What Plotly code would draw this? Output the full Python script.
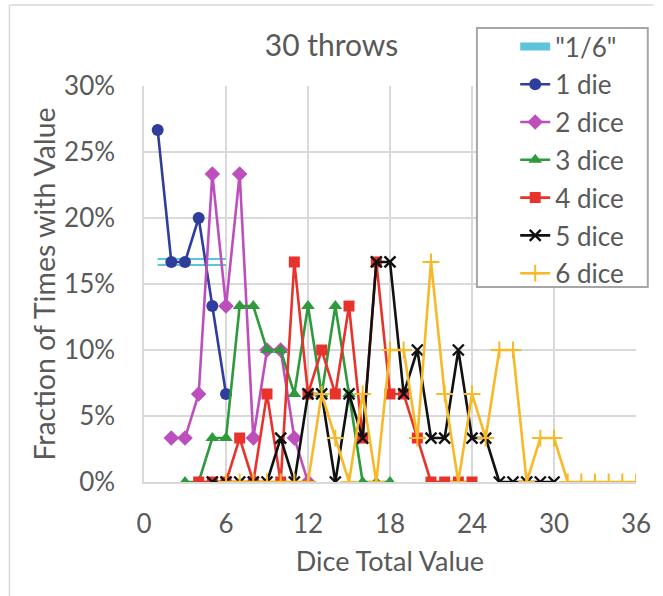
import plotly.graph_objects as go

# ---- data ----
x_sixth = [1, 2, 3, 4, 5, 6]
y_sixth = [0.1667, 0.1667, 0.1667, 0.1667, 0.1667, 0.1667]

x_d1 = list(range(1, 7))
y_d1 = [0.2667, 0.1667, 0.1667, 0.2, 0.1333, 0.0667]

x_d2 = list(range(2, 13))
y_d2 = [0.0333, 0.0333, 0.0667, 0.2333, 0.1333, 0.2333, 0.0333, 0.1, 0.1, 0.0333, 0]

x_d3 = list(range(3, 19))
y_d3 = [0, 0, 0.0333, 0.0333, 0.1333, 0.1333, 0.1, 0.1, 0.0667, 0.1333, 0.0667,
        0.1333, 0.0667, 0, 0, 0]

x_d4 = list(range(4, 25))
y_d4 = [0, 0, 0, 0.0333, 0, 0.0667, 0, 0.1667, 0.0667, 0.1, 0.0667, 0.1333,
        0.0333, 0.1667, 0.0667, 0.0667, 0.0333, 0, 0, 0, 0]

x_d5 = list(range(5, 31))
y_d5 = [0, 0, 0, 0, 0, 0.0333, 0, 0.0667, 0.0667, 0, 0.0667, 0.0333, 0.1667,
        0.1667, 0.0667, 0.1, 0.0333, 0.0333, 0.1, 0.0333, 0.0333, 0, 0, 0, 0, 0]

x_d6 = list(range(6, 37))
y_d6 = [0, 0, 0, 0, 0, 0, 0, 0.0667, 0.0333, 0, 0.0667, 0, 0.1, 0.1, 0.0333,
        0.1667, 0.0667, 0, 0.0667, 0.0333, 0.1, 0.1, 0, 0.0333, 0.0333,
        0, 0, 0, 0, 0, 0]

x_ticks = [0, 6, 12, 18, 24, 30, 36]
y_ticks = [0, 0.05, 0.10, 0.15, 0.20, 0.25, 0.30]

FONT = "Lato"
TXT = "#595959"
GRID = "#d9d9d9"

fig = go.Figure()

fig.add_trace(go.Scatter(x=x_sixth, y=y_sixth, mode="lines", name='"1/6"',
                         line=dict(color="#5ec4dc", width=8), legendgroup="g0"))
fig.add_trace(go.Scatter(x=x_sixth, y=y_sixth, mode="lines", showlegend=False,
                         line=dict(color="white", width=4), hoverinfo="skip",
                         legendgroup="g0"))

series = [
    (x_d1, y_d1, "1 die", "#2f3d9c", dict(symbol="circle", size=12)),
    (x_d2, y_d2, "2 dice", "#bd4fbd", dict(symbol="diamond", size=12)),
    (x_d3, y_d3, "3 dice", "#2e9a3c", dict(symbol="triangle-up", size=12)),
    (x_d4, y_d4, "4 dice", "#e8322c", dict(symbol="square", size=11)),
    (x_d5, y_d5, "5 dice", "#111111", dict(symbol="x-thin", size=11,
                                           line=dict(width=2.4, color="#111111"))),
    (x_d6, y_d6, "6 dice", "#f7b928", dict(symbol="cross-thin", size=12,
                                           line=dict(width=2, color="#f7b928"))),
]
for i, (xs, ys, nm, col, mk) in enumerate(series):
    mk = dict(mk)
    mk["color"] = col
    fig.add_trace(go.Scatter(x=xs, y=ys, mode="lines+markers", name=nm,
                             line=dict(color=col, width=2.6), marker=mk,
                             legendgroup="g%d" % (i + 1)))

# helper for paper coords from pixel positions
L, R, T, B = 144, 645, 86, 482
def px(x):
    return (x - L) / (R - L)
def py(y):
    return (B - y) / (B - T)

shapes = [
    # legend box
    dict(type="rect", xref="paper", yref="paper",
         x0=px(483), x1=px(657), y0=py(287), y1=py(28),
         line=dict(color="#a6a6a6", width=2), fillcolor="white", layer="above"),
    # outer chart border (top and left)
    dict(type="line", xref="paper", yref="paper",
         x0=px(7), x1=px(663), y0=py(5), y1=py(5),
         line=dict(color=GRID, width=1.5)),
    dict(type="line", xref="paper", yref="paper",
         x0=px(7), x1=px(7), y0=py(5), y1=py(596),
         line=dict(color=GRID, width=1.5)),
]

fig.update_layout(
    width=663, height=596,
    margin=dict(l=L, r=663 - R, t=T, b=596 - B),
    paper_bgcolor="white", plot_bgcolor="white",
    font=dict(family=FONT, color=TXT, size=24),
    title=dict(text="30 throws", x=0.5, xref="container", xanchor="center",
               y=1 - 45 / 596, yref="container", yanchor="middle",
               font=dict(family=FONT, size=30, color=TXT)),
    showlegend=True,
    legend=dict(x=px(522), y=py(23), xanchor="left", yanchor="top",
                bgcolor="rgba(0,0,0,0)", borderwidth=0,
                font=dict(family=FONT, size=26, color=TXT),
                traceorder="grouped", tracegroupgap=1),
    shapes=shapes,
)

fig.update_xaxes(range=[0, 36], tickvals=x_ticks, ticktext=[str(v) for v in x_ticks],
                 showgrid=True, gridcolor=GRID, gridwidth=1.5,
                 showline=True, linecolor=GRID, linewidth=1.5, mirror=False,
                 zeroline=False, ticks="outside", ticklen=18,
                 tickcolor="rgba(0,0,0,0)",
                 tickfont=dict(family=FONT, size=26, color=TXT),
                 title=dict(text="Dice Total Value", standoff=14,
                            font=dict(family=FONT, size=27, color=TXT)))
fig.update_yaxes(range=[0, 0.30], tickvals=y_ticks, tickformat=".0%",
                 showgrid=True, gridcolor=GRID, gridwidth=1.5,
                 showline=True, linecolor=GRID, linewidth=1.5,
                 zeroline=False, ticks="outside", ticklen=22,
                 tickcolor="rgba(0,0,0,0)",
                 tickfont=dict(family=FONT, size=26, color=TXT),
                 title=dict(text="Fraction of Times with Value", standoff=0,
                            font=dict(family=FONT, size=28.5, color=TXT)))

fig.write_html("out.html", config={"displayModeBar": False},
               post_script="document.body.style.margin='0';"
                           "document.body.style.overflow='hidden';")
